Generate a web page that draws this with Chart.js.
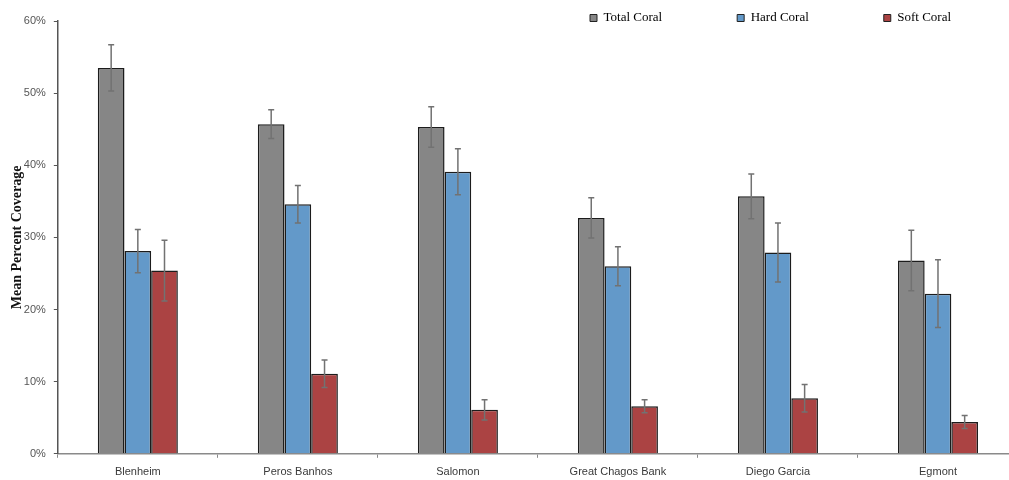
<!DOCTYPE html>
<html>
<head>
<meta charset="utf-8">
<script src="https://cdn.jsdelivr.net/npm/chart.js@4"></script>
<style>
  html, body { margin: 0; padding: 0; background: #ffffff; overflow: hidden; }
  #wrap { width: 1018px; height: 480px; position: relative; }
</style>
</head>
<body>
<div id="wrap"><canvas id="chart"></canvas></div>
<script>
// Sites surveyed
const sites = ['Blenheim', 'Peros Banhos', 'Salomon', 'Great Chagos Bank', 'Diego Garcia', 'Egmont'];

// Mean cover (fraction) and standard error per site
const totalCoral    = [0.535, 0.457, 0.453, 0.327, 0.357, 0.268];
const totalCoralErr = [0.032, 0.020, 0.028, 0.028, 0.031, 0.042];
const hardCoral     = [0.281, 0.346, 0.391, 0.260, 0.279, 0.222];
const hardCoralErr  = [0.030, 0.026, 0.032, 0.027, 0.041, 0.047];
const softCoral     = [0.254, 0.111, 0.061, 0.066, 0.077, 0.044];
const softCoralErr  = [0.042, 0.019, 0.014, 0.009, 0.019, 0.009];

// Y axis ticks
const yTicks = [0, 0.1, 0.2, 0.3, 0.4, 0.5, 0.6];

// Whiskers for the standard error of each bar
const errorBars = {
  id: 'errorBars',
  afterDatasetsDraw(chart) {
    const ctx = chart.ctx;
    const y = chart.scales.y;
    ctx.save();
    ctx.strokeStyle = '#727272';
    ctx.lineWidth = 1.5;
    chart.data.datasets.forEach((ds, di) => {
      const meta = chart.getDatasetMeta(di);
      meta.data.forEach((bar, i) => {
        const v = ds.data[i], e = ds.errors[i];
        const yTop = y.getPixelForValue(v + e);
        const yBot = y.getPixelForValue(v - e);
        const x = bar.x;
        ctx.beginPath();
        ctx.moveTo(x, yTop); ctx.lineTo(x, yBot);
        ctx.moveTo(x - 3, yTop); ctx.lineTo(x + 3, yTop);
        ctx.moveTo(x - 3, yBot); ctx.lineTo(x + 3, yBot);
        ctx.stroke();
      });
    });
    ctx.restore();
  }
};

// Place the legend row in the upper right, overlapping the plot top
const legendPlacement = {
  id: 'legendPlacement',
  afterLayout(chart) {
    const lg = chart.legend;
    if (!lg) return;
    const pad = lg.options.labels.padding;
    lg.left = 590 - pad;
    lg.top = 11.5 - pad;
    lg.right = 1400;
    lg.bottom = 40;
    lg.width = lg.right - lg.left;
    lg.height = lg.bottom - lg.top;
  }
};

const barBorder = '#1c1c1c';
const sansNarrow = "'Liberation Sans Narrow', 'Liberation Sans', Arial, sans-serif";
const serif = "'Liberation Serif', 'Times New Roman', serif";

new Chart(document.getElementById('chart'), {
  type: 'bar',
  data: {
    labels: sites,
    datasets: [
      { label: 'Total Coral', data: totalCoral, errors: totalCoralErr,
        backgroundColor: '#868686', borderColor: barBorder, borderWidth: 1.5 },
      { label: 'Hard Coral', data: hardCoral, errors: hardCoralErr,
        backgroundColor: '#6399c9', borderColor: barBorder, borderWidth: 1.5 },
      { label: 'Soft Coral', data: softCoral, errors: softCoralErr,
        backgroundColor: '#ab4343', borderColor: barBorder, borderWidth: 1.5 }
    ]
  },
  options: {
    responsive: true,
    maintainAspectRatio: false,
    animation: false,
    devicePixelRatio: 1,
    layout: { padding: { left: 9, right: 0, top: 20, bottom: -7 } },
    datasets: { bar: { categoryPercentage: 0.5, barPercentage: 1.0 } },
    plugins: {
      tooltip: { enabled: false },
      legend: {
        position: 'top',
        align: 'start',
        maxHeight: 1,
        labels: {
          boxWidth: 7,
          boxHeight: 7,
          padding: 75,
          color: '#111111',
          font: { family: serif, size: 13 },
          generateLabels(chart) {
            return chart.data.datasets.map((ds, i) => ({
              text: ds.label,
              fillStyle: ds.backgroundColor,
              strokeStyle: '#222222',
              lineWidth: 1,
              datasetIndex: i,
              hidden: false
            }));
          }
        }
      }
    },
    scales: {
      x: {
        grid: {
          offset: true,
          drawOnChartArea: false,
          drawTicks: true,
          tickLength: 4,
          color: '#8a8a8a',
          tickColor: '#8a8a8a'
        },
        border: { display: true, color: '#8a8a8a', width: 1.5 },
        ticks: {
          padding: 8,
          color: '#3a3a3a',
          font: { family: sansNarrow, size: 11 }
        }
      },
      y: {
        min: 0,
        max: 0.6,
        afterBuildTicks(scale) { scale.ticks = yTicks.map(v => ({ value: v })); },
        grid: {
          drawOnChartArea: false,
          drawTicks: true,
          tickLength: 4,
          color: '#555555',
          tickColor: '#555555'
        },
        border: { display: true, color: '#555555', width: 1.5 },
        ticks: {
          padding: 8,
          color: '#555555',
          font: { family: sansNarrow, size: 11 },
          callback: v => Math.round(v * 100) + '%'
        },
        title: {
          display: true,
          text: 'Mean Percent Coverage',
          color: '#111111',
          padding: { top: 0, bottom: -10 },
          font: { family: serif, size: 14, weight: 'bold' }
        }
      }
    }
  },
  plugins: [errorBars, legendPlacement]
});
</script>
</body>
</html>
